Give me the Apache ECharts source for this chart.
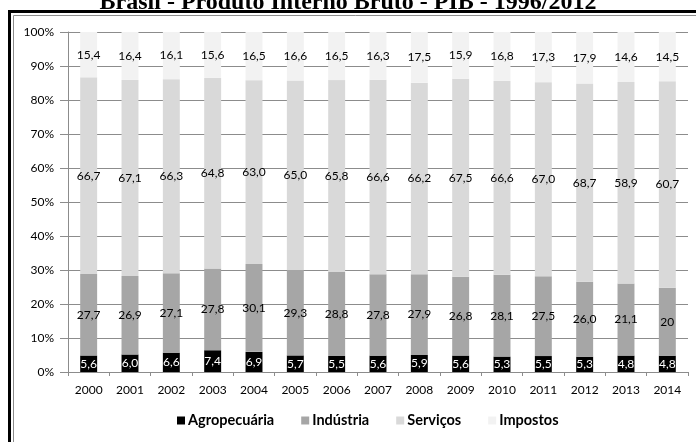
<!DOCTYPE html>
<html>
<head>
<meta charset="utf-8">
<script src="https://cdn.jsdelivr.net/npm/echarts@6/dist/echarts.min.js"></script>
<style>
  html, body { margin: 0; padding: 0; background: #ffffff; }
  #chart { width: 696px; height: 442px; }
</style>
</head>
<body>
<div id="chart"></div>
<script>
// PIB do Brasil por setor (valores como rotulados, em %)
const anos = ['2000','2001','2002','2003','2004','2005','2006','2007','2008','2009','2010','2011','2012','2013','2014'];
const agropecuaria = ['5,6','6,0','6,6','7,4','6,9','5,7','5,5','5,6','5,9','5,6','5,3','5,5','5,3','4,8','4,8'];
const industria    = ['27,7','26,9','27,1','27,8','30,1','29,3','28,8','27,8','27,9','26,8','28,1','27,5','26,0','21,1','20'];
const servicos     = ['66,7','67,1','66,3','64,8','63,0','65,0','65,8','66,6','66,2','67,5','66,6','67,0','68,7','58,9','60,7'];
const impostos     = ['15,4','16,4','16,1','15,6','16,5','16,6','16,5','16,3','17,5','15,9','16,8','17,3','17,9','14,6','14,5'];
const yTicks = { min: 0, max: 100, interval: 10 };

const toNum = s => parseFloat(s.replace(',', '.'));
const setores = [
  { nome: 'Agropecuária', dados: agropecuaria, cor: '#000000', corTexto: '#ffffff' },
  { nome: 'Indústria',    dados: industria,    cor: '#a6a6a6', corTexto: '#000000' },
  { nome: 'Serviços',     dados: servicos,     cor: '#d9d9d9', corTexto: '#000000' },
  { nome: 'Impostos',     dados: impostos,     cor: '#f2f2f2', corTexto: '#000000' }
];

// cada coluna é normalizada para 100% pela soma dos quatro componentes
const totais = anos.map((_, i) => setores.reduce((s, st) => s + toNum(st.dados[i]), 0));

const FONT = 'Lato';
const series = setores.map(st => ({
  name: st.nome,
  type: 'bar',
  stack: 'total',
  barCategoryGap: '59%',
  itemStyle: { color: st.cor },
  label: {
    show: true,
    position: 'inside',
    fontFamily: FONT,
    fontSize: 12,
    color: st.corTexto,
    formatter: p => st.dados[p.dataIndex]
  },
  data: st.dados.map((s, i) => toNum(s) / totais[i] * 100)
}));

const chart = echarts.init(document.getElementById('chart'), null, { renderer: 'canvas' });
chart.setOption({
  animation: false,
  backgroundColor: '#ffffff',
  title: {
    text: 'Brasil - Produto Interno Bruto - PIB - 1996/2012',
    left: 'center',
    top: -14,
    textStyle: { fontFamily: 'Liberation Serif', fontWeight: 'bold', fontSize: 24, color: '#000000' }
  },
  graphic: [
    { type: 'rect', shape: { x: 9.5, y: 11.5, width: 720, height: 460 },
      style: { fill: 'none', stroke: '#000000', lineWidth: 3 }, silent: true },
    { type: 'rect', shape: { x: 13.5, y: 15.5, width: 720, height: 460 },
      style: { fill: 'none', stroke: '#8c8c8c', lineWidth: 1 }, silent: true }
  ],
  grid: { left: 68, right: 8, top: 32, bottom: 70, containLabel: false },
  legend: {
    bottom: 9,
    left: 172,
    itemWidth: 8,
    itemHeight: 8,
    itemGap: 27,
    icon: 'rect',
    textStyle: { fontFamily: FONT, fontWeight: 'bold', fontSize: 14.5, color: '#000000', padding: [0, 0, 0, -2] },
    data: setores.map(s => s.nome)
  },
  xAxis: {
    type: 'category',
    data: anos,
    axisLine: { lineStyle: { color: '#8c8c8c', width: 1 } },
    axisTick: { show: true, length: 4, lineStyle: { color: '#8c8c8c' } },
    axisLabel: { fontFamily: FONT, fontSize: 12, color: '#000000', margin: 12 }
  },
  yAxis: {
    type: 'value',
    min: yTicks.min,
    max: yTicks.max,
    interval: yTicks.interval,
    axisLine: { show: true, lineStyle: { color: '#8c8c8c', width: 1 } },
    axisTick: { show: true, length: 8, lineStyle: { color: '#8c8c8c' } },
    splitLine: { show: true, lineStyle: { color: '#8c8c8c', width: 1 } },
    axisLabel: { fontFamily: FONT, fontSize: 12, color: '#000000', margin: 14, formatter: '{value}%' }
  },
  series: series
});
</script>
</body>
</html>
